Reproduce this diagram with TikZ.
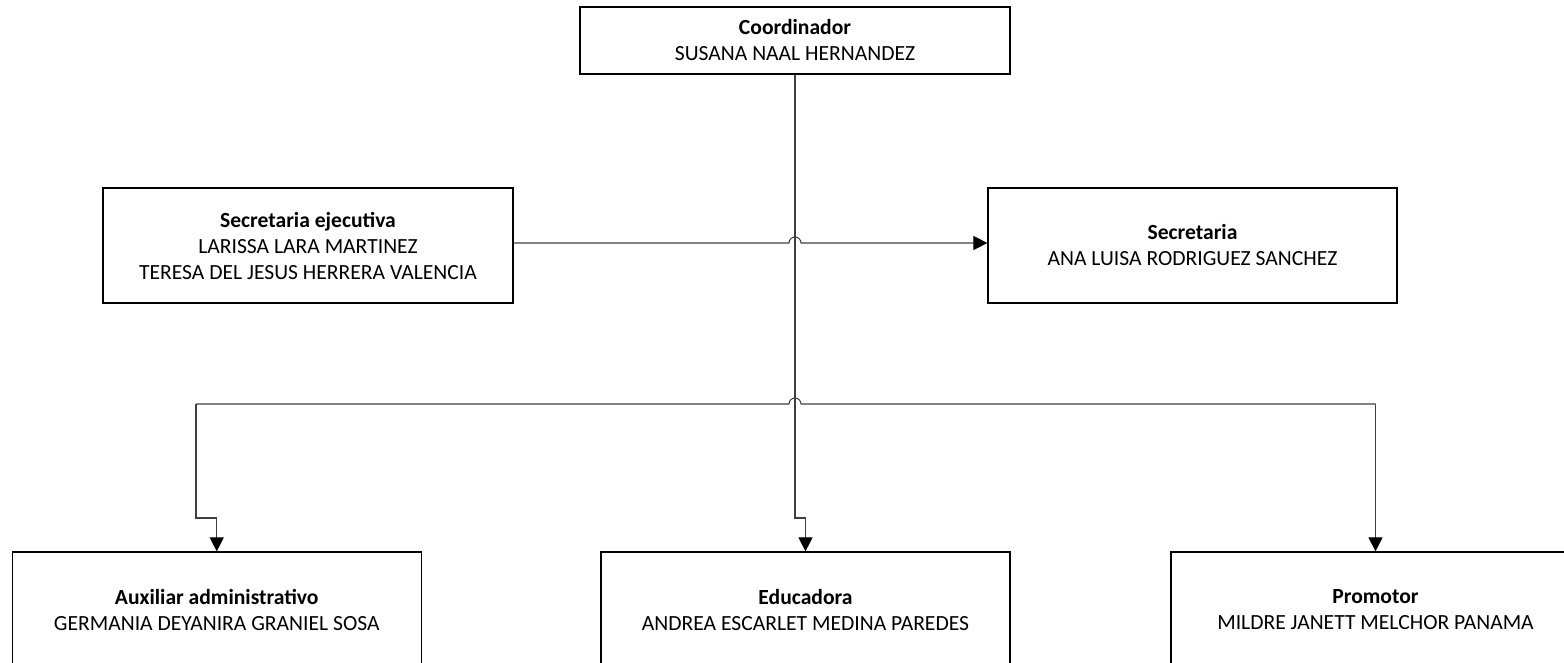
\documentclass[tikz,border=0pt]{standalone}
\usepackage{fontspec}
\setmainfont{Carlito}
\usetikzlibrary{arrows.meta,calc}
\begin{document}
\begin{tikzpicture}[x=0.75pt,y=-0.75pt,
  box/.style={draw=black, line width=0.9pt, align=center, inner sep=0pt,
    font=\fontsize{16.2}{19.5}\selectfont, minimum width=306.75pt, minimum height=86.25pt},
  conn/.style={draw=black!75, line width=0.8pt},
  tip/.style={-{Triangle[width=10.5pt,length=10.5pt,color=black]}}]
\path[use as bounding box] (0,0) rectangle (1564,663);
\clip (0,0) rectangle (1564,663);
% boxes
\node[box, minimum width=322.5pt, minimum height=50.25pt] (coord) at (795,40.5) {\textbf{Coordinador}\\SUSANA NAAL HERNANDEZ};
\node[box, minimum width=307.5pt] (sece) at (308,245.5) {\textbf{Secretaria ejecutiva}\\LARISSA LARA MARTINEZ\\TERESA DEL JESUS HERRERA VALENCIA};
\node[box] (sec) at (1192.5,245.5) {\textbf{Secretaria}\\ANA LUISA RODRIGUEZ SANCHEZ};
\node[box] (aux) at (216.75,609.5) {\textbf{Auxiliar administrativo}\\GERMANIA DEYANIRA GRANIEL SOSA};
\node[box] (edu) at (805.5,609.5) {\textbf{Educadora}\\ANDREA ESCARLET MEDINA PAREDES};
\node[box] (prom) at (1375.5,609.5) {\textbf{Promotor}\\MILDRE JANETT MELCHOR PANAMA};
% helper coordinates
\coordinate (hy) at (0,243);
\coordinate (bl) at (196,404);
\coordinate (br) at (1375.5,404);
\coordinate (auxj) at (216.75,518);
\coordinate (eduj) at (795,518);
% connectors
\draw[conn,tip] (sece.east |- hy) -- (789,243) arc[start angle=180,end angle=0,radius=4.5pt] -- (sec.west |- hy);
\draw[conn,tip] (coord.south) -- (eduj) -| (edu.north);
\draw[conn] (bl) -- (789,404) arc[start angle=180,end angle=0,radius=4.5pt] -- (br);
\draw[conn,tip] (bl) |- (auxj) -- (aux.north);
\draw[conn,tip] (br) -- (prom.north);
\end{tikzpicture}
\end{document}
